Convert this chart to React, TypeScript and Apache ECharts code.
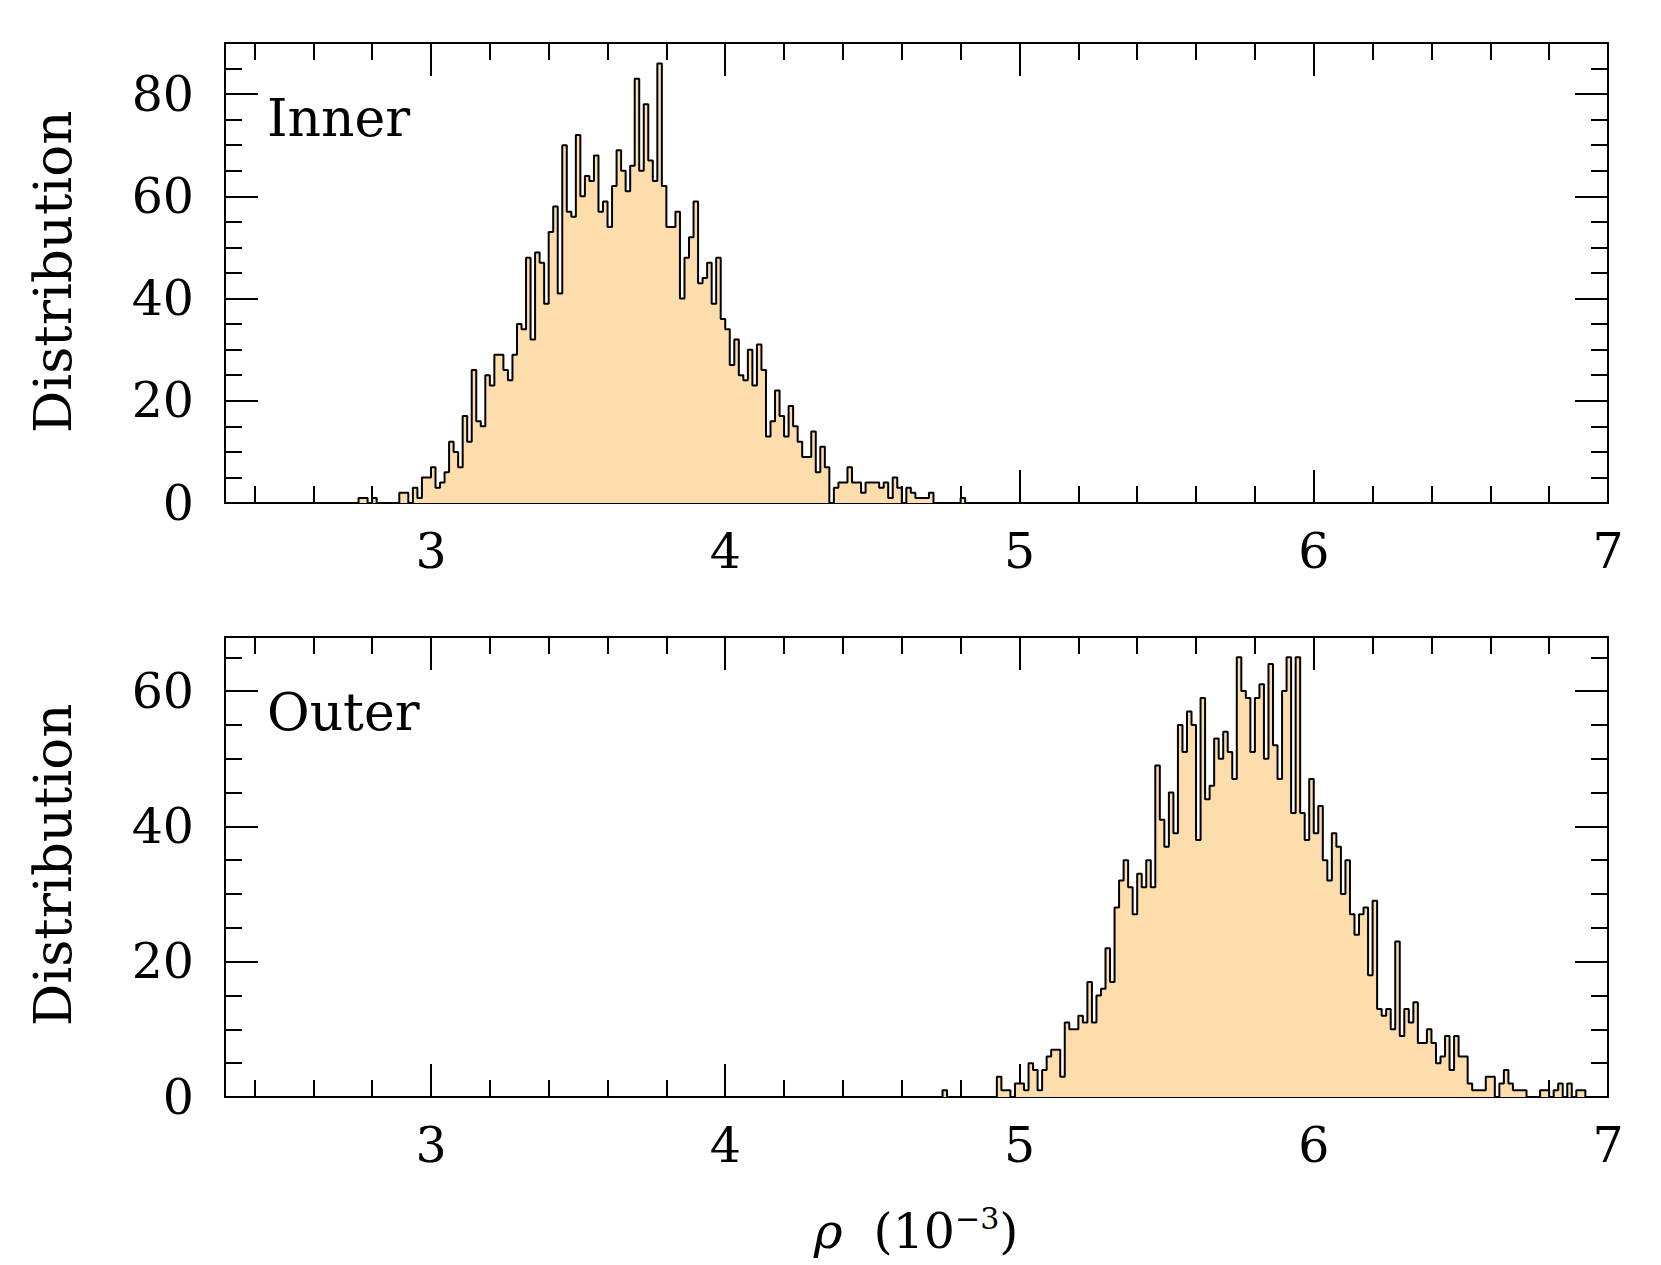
import React, { useEffect, useRef } from "react";
import * as echarts from "echarts";

// Histogram bins: width 1/65 (units of 10^-3); bin i has left edge (start + i) * BIN_WIDTH
const BIN_WIDTH = 1 / 65;
const X_MIN = 2.3;
const X_MAX = 7;

const innerStartBin = 179;
const innerCounts = [
  1, 1, 0, 1, 0, 0, 0, 0, 0, 2, 2, 0, 3, 1, 5, 5,
  7, 3, 4, 6, 12, 10, 7, 17, 12, 26, 16, 15, 25, 23, 29, 29, 26, 24, 29, 35,
  34, 48, 32, 49, 47, 39, 53, 58, 41, 70, 57, 56, 72, 60, 64, 63, 68, 57, 59, 54,
  62, 69, 65, 61, 66, 83, 65, 78, 67, 63, 86, 62, 54, 54, 57, 40, 48, 52, 59, 43,
  44, 47, 39, 48, 36, 34, 27, 32, 25, 24, 30, 23, 31, 26, 13, 16, 22, 17, 13, 19,
  15, 12, 9, 9, 14, 6, 11, 7, 0, 3, 4, 4, 7, 4, 4, 2, 4, 4, 4, 3,
  4, 1, 5, 3, 0, 3, 2, 1, 1, 1, 2, 0, 0, 0, 0, 0, 0, 1,
];

const outerStartBin = 308;
const outerCounts = [
  1, 0, 0, 0, 0, 0, 0, 0, 0, 0, 0, 0, 3, 1, 1, 0, 2, 2, 1, 5,
  4, 1, 4, 6, 7, 7, 3, 11, 10, 10, 12, 11, 17, 11, 15, 16, 22, 17, 28, 32,
  35, 31, 27, 33, 31, 35, 31, 49, 41, 37, 45, 39, 55, 51, 57, 55, 38, 59, 44, 46,
  53, 50, 54, 51, 47, 65, 60, 59, 51, 59, 61, 50, 64, 52, 47, 60, 65, 42, 65, 42,
  38, 47, 39, 43, 35, 32, 39, 37, 30, 35, 27, 24, 27, 28, 18, 29, 13, 12, 13, 10,
  23, 9, 13, 11, 14, 8, 8, 10, 8, 5, 6, 9, 4, 9, 6, 6, 2, 1, 1, 1,
  3, 3, 0, 2, 4, 2, 1, 1, 1, 0, 0, 0, 1, 1, 0, 1, 2, 0, 2, 0,
  1, 1,
];

const xMajorTicks = [3, 4, 5, 6, 7];
const xMinorTicks = [2.4, 2.6, 2.8, 3.2, 3.4, 3.6, 3.8, 4.2, 4.4, 4.6, 4.8, 5.2, 5.4, 5.6, 5.8, 6.2, 6.4, 6.6, 6.8];
const innerYMax = 90;
const innerYMajor = [0, 20, 40, 60, 80];
const innerYMinor = [5, 10, 15, 25, 30, 35, 45, 50, 55, 65, 70, 75, 85];
const outerYMax = 68;
const outerYMajor = [0, 20, 40, 60];
const outerYMinor = [5, 10, 15, 25, 30, 35, 45, 50, 55, 65];

const panelLabels = ["Inner", "Outer"];
const yTitle = "Distribution";

const FONT = "DejaVu Serif";
const FS = 49;
const FILL = "#FDDDAC";
const INK = "#000";

function histPoints(start: number, counts: number[]) {
  const pts: number[][] = [[(start - 1) * BIN_WIDTH, 0]];
  counts.forEach((c, i) => pts.push([(start + i) * BIN_WIDTH, c]));
  pts.push([(start + counts.length) * BIN_WIDTH, 0]);
  return pts;
}

const line = { color: INK, width: 2 };

function xAxes(gridIndex: number) {
  const base = {
    gridIndex,
    type: "value",
    min: X_MIN,
    max: X_MAX,
    splitLine: { show: false },
  };
  return [
    {
      ...base,
      position: "bottom",
      axisLine: { show: true, onZero: false, lineStyle: line },
      axisTick: { show: true, inside: true, length: 33, customValues: xMajorTicks, lineStyle: line },
      axisLabel: {
        show: true,
        customValues: xMajorTicks,
        margin: 24,
        fontFamily: FONT,
        fontSize: FS,
        color: INK,
      },
    },
    {
      ...base,
      position: "bottom",
      axisLine: { show: false, onZero: false },
      axisTick: { show: true, inside: true, length: 17, customValues: xMinorTicks, lineStyle: line },
      axisLabel: { show: false },
    },
    {
      ...base,
      position: "top",
      axisLine: { show: true, onZero: false, lineStyle: line },
      axisTick: { show: true, inside: true, length: 33, customValues: xMajorTicks, lineStyle: line },
      axisLabel: { show: false },
    },
    {
      ...base,
      position: "top",
      axisLine: { show: false, onZero: false },
      axisTick: { show: true, inside: true, length: 17, customValues: xMinorTicks, lineStyle: line },
      axisLabel: { show: false },
    },
  ];
}

function yAxes(gridIndex: number, max: number, major: number[], minor: number[]) {
  const base = {
    gridIndex,
    type: "value",
    min: 0,
    max,
    splitLine: { show: false },
  };
  return [
    {
      ...base,
      position: "left",
      axisLine: { show: true, onZero: false, lineStyle: line },
      axisTick: { show: true, inside: true, length: 33, customValues: major, lineStyle: line },
      axisLabel: {
        show: true,
        customValues: major,
        margin: 31,
        fontFamily: FONT,
        fontSize: FS,
        color: INK,
      },
    },
    {
      ...base,
      position: "left",
      axisLine: { show: false, onZero: false },
      axisTick: { show: true, inside: true, length: 17, customValues: minor, lineStyle: line },
      axisLabel: { show: false },
    },
    {
      ...base,
      position: "right",
      axisLine: { show: true, onZero: false, lineStyle: line },
      axisTick: { show: true, inside: true, length: 33, customValues: major, lineStyle: line },
      axisLabel: { show: false },
    },
    {
      ...base,
      position: "right",
      axisLine: { show: false, onZero: false },
      axisTick: { show: true, inside: true, length: 17, customValues: minor, lineStyle: line },
      axisLabel: { show: false },
    },
  ];
}

function histSeries(xIdx: number, yIdx: number, start: number, counts: number[]) {
  return {
    type: "line",
    xAxisIndex: xIdx,
    yAxisIndex: yIdx,
    data: histPoints(start, counts),
    step: "end",
    symbol: "none",
    showSymbol: false,
    silent: true,
    lineStyle: { color: INK, width: 2 },
    areaStyle: { color: FILL, opacity: 1 },
    z: 2,
  };
}

function textEl(text: string, x: number, y: number, extra: any = {}) {
  return {
    type: "text",
    x,
    y,
    silent: true,
    ...extra,
    style: {
      text,
      fill: INK,
      fontFamily: FONT,
      fontSize: FS,
      align: "left",
      textAlign: "left",
      verticalAlign: "middle",
      textVerticalAlign: "middle",
      ...(extra.style || {}),
    },
  };
}

export default function App() {
  const ref = useRef<HTMLDivElement>(null);

  useEffect(() => {
    if (!ref.current) return;
    const chart = echarts.init(ref.current, null, { renderer: "svg" });
    const option: any = {
      animation: false,
      backgroundColor: "#fff",
      grid: [
        { left: 225, top: 43, width: 1383, height: 460, containLabel: false },
        { left: 225, top: 637, width: 1383, height: 460, containLabel: false },
      ],
      xAxis: [...xAxes(0), ...xAxes(1)],
      yAxis: [
        ...yAxes(0, innerYMax, innerYMajor, innerYMinor),
        ...yAxes(1, outerYMax, outerYMajor, outerYMinor),
      ],
      series: [
        histSeries(0, 0, innerStartBin, innerCounts),
        histSeries(4, 4, outerStartBin, outerCounts),
      ],
      graphic: [
        textEl(yTitle, 52, 272, {
          rotation: Math.PI / 2,
          style: { align: "center", textAlign: "center", fontSize: 53 },
        }),
        textEl(yTitle, 52, 865, {
          rotation: Math.PI / 2,
          style: { align: "center", textAlign: "center", fontSize: 53 },
        }),
        textEl(panelLabels[0], 267, 118, { style: { fontSize: 52 } }),
        textEl(panelLabels[1], 267, 712, { style: { fontSize: 52 } }),
        {
          type: "text",
          x: 916,
          y: 1231,
          silent: true,
          style: {
            text: "{i|ρ}  (10{s|−3})",
            fill: INK,
            fontFamily: FONT,
            fontSize: FS,
            lineHeight: 56,
            align: "center",
            textAlign: "center",
            verticalAlign: "middle",
            textVerticalAlign: "middle",
            rich: {
              i: { fontFamily: FONT, fontSize: FS, fontStyle: "italic", lineHeight: 56 },
              s: { fontFamily: FONT, fontSize: 30, verticalAlign: "top", lineHeight: 28 },
            },
          },
        },
      ],
    };
    chart.setOption(option);
    return () => chart.dispose();
  }, []);

  return (
    <div
      ref={ref}
      style={{ position: "absolute", left: 0, top: 0, width: 1661, height: 1265, background: "#fff" }}
    />
  );
}
